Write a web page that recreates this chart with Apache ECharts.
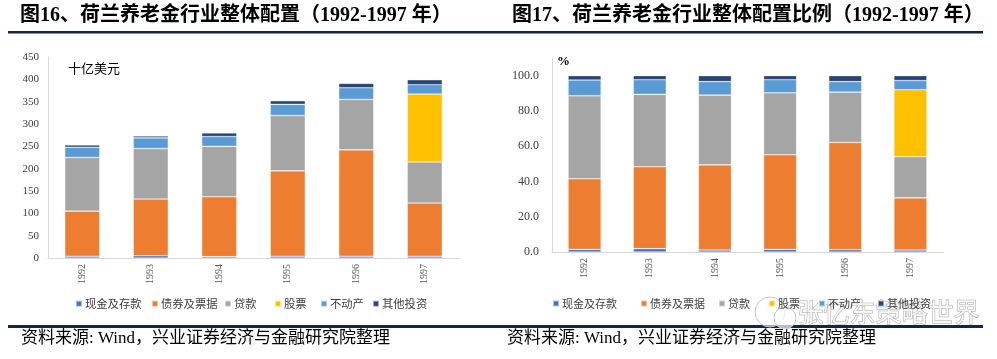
<!DOCTYPE html>
<html>
<head>
<meta charset="utf-8">
<script src="https://cdn.jsdelivr.net/npm/echarts@6/dist/echarts.min.js"></script>
<style>
html,body{margin:0;padding:0;background:#fff;}
#c{width:997px;height:359px;}
</style>
</head>
<body>
<div id="c"></div>
<script>
// ---- data ----
const years = ['1992','1993','1994','1995','1996','1997'];
const seriesNames = ['现金及存款','债券及票据','贷款','股票','不动产','其他投资'];
// Fig 16: billion USD
const cashAmt   = [4, 5, 3, 4, 4, 4];
const bondAmt   = [101, 127, 134, 191, 238, 119];
const loanAmt   = [120, 113, 113, 124, 113, 92];
const stockAmt  = [0, 0, 0, 0, 0, 152];
const realAmt   = [23, 24, 22, 25, 26, 21];
const otherAmt  = [5, 4, 8, 8, 10, 11];
// Fig 17: percent
const cashPct   = [1.5, 1.9, 1.1, 1.5, 1.3, 1.1];
const bondPct   = [40.0, 46.4, 48.3, 53.6, 60.8, 29.6];
const loanPct   = [47.1, 41.1, 39.6, 35.2, 28.6, 23.3];
const stockPct  = [0, 0, 0, 0, 0, 38.0];
const realPct   = [8.9, 8.3, 7.6, 7.4, 5.9, 5.2];
const otherPct  = [2.5, 2.3, 3.4, 2.3, 3.4, 2.8];
const leftTicks = [0, 450, 50];
const rightTicks = [0, 100, 20];

const colors = ['#4472C4','#ED7D31','#A5A5A5','#FFC000','#5B9BD5','#264478'];
const amtData = [cashAmt, bondAmt, loanAmt, stockAmt, realAmt, otherAmt];
const pctData = [cashPct, bondPct, loanPct, stockPct, realPct, otherPct];

const serif = '"Liberation Serif","Noto Sans CJK SC",serif';
const cjk = '"Noto Sans CJK SC","Liberation Serif",sans-serif';

const chart = echarts.init(document.getElementById('c'), null, {renderer:'canvas'});

const series = [];
seriesNames.forEach((n,i)=>{
  series.push({
    name:n, type:'bar', stack:'a', xAxisIndex:0, yAxisIndex:0,
    barWidth:35, data:amtData[i],
    itemStyle:{color:colors[i], borderColor:'rgba(255,255,255,0.55)', borderWidth:0.6},
    emphasis:{disabled:true}
  });
});
seriesNames.forEach((n,i)=>{
  series.push({
    name:n, type:'bar', stack:'b', xAxisIndex:1, yAxisIndex:1,
    barWidth:33, data:pctData[i],
    itemStyle:{color:colors[i], borderColor:'rgba(255,255,255,0.55)', borderWidth:0.6},
    emphasis:{disabled:true}
  });
});

const xCommon = {
  type:'category', data:years,
  axisLine:{lineStyle:{color:'#D9D9D9', width:1}},
  axisTick:{show:false},
  axisLabel:{rotate:90, fontFamily:serif, fontSize:10, color:'#595959', margin:6}
};

// one legend per item so positions follow the reference layout
const leftLegendX = [70, 146, 219, 269, 315, 367];
const rightLegendX = [547, 635, 713, 763, 813, 872];
const legends = [];
seriesNames.forEach((n,i)=>{
  legends.push({data:[n], left:leftLegendX[i], top:293, icon:'rect', itemWidth:6, itemHeight:6, itemGap:0,
    textStyle:{fontFamily:cjk, fontSize:11.3, color:'#404040', padding:[0,0,0,-2]}, selectedMode:false});
});
seriesNames.forEach((n,i)=>{
  legends.push({data:[n], left:rightLegendX[i], top:293, icon:'rect', itemWidth:6, itemHeight:6, itemGap:0,
    textStyle:{fontFamily:cjk, fontSize:11, color:'#404040', padding:[0,0,0,-2]}, selectedMode:false});
});

const lineColor = '#14254A';

chart.setOption({
  animation:false,
  color:colors,
  grid:[
    {left:48, right:538, top:57, bottom:101},
    {left:552, right:54, top:58, bottom:107}
  ],
  xAxis:[
    Object.assign({gridIndex:0}, xCommon),
    Object.assign({gridIndex:1}, xCommon)
  ],
  yAxis:[
    {type:'value', gridIndex:0, min:leftTicks[0], max:leftTicks[1], interval:leftTicks[2],
     axisLine:{show:true, lineStyle:{color:'#D9D9D9'}}, axisTick:{show:false}, splitLine:{show:false},
     axisLabel:{fontFamily:serif, fontSize:11, color:'#404040', margin:9}},
    {type:'value', gridIndex:1, min:rightTicks[0], max:110, interval:rightTicks[2],
     axisLine:{show:true, lineStyle:{color:'#D9D9D9'}}, axisTick:{show:false}, splitLine:{show:false},
     axisLabel:{fontFamily:serif, fontSize:12, color:'#404040', margin:13, showMaxLabel:false,
       formatter:v=> v>100 ? '' : v.toFixed(1)}}
  ],
  legend:legends,
  series:series,
  graphic:[
    {type:'text', left:20, top:6, style:{text:'图16、荷兰养老金行业整体配置（1992-1997 年）', font:'bold 20px '+serif, fill:'#000'}},
    {type:'text', left:512, top:6, style:{text:'图17、荷兰养老金行业整体配置比例（1992-1997 年）', font:'bold 20px '+serif, fill:'#000'}},
    {type:'rect', shape:{x:8, y:31, width:975, height:2.5}, style:{fill:lineColor}},
    {type:'rect', shape:{x:8, y:325, width:975, height:3}, style:{fill:lineColor}},
    {type:'text', left:68, top:62, style:{text:'十亿美元', font:'13px '+cjk, fill:'#000'}},
    {type:'text', left:557, top:55, style:{text:'%', font:'bold 13px '+serif, fill:'#000'}},
    {type:'text', left:21, top:330, style:{text:'资料来源: Wind，兴业证券经济与金融研究院整理', font:'17px '+serif, fill:'#000'}},
    {type:'text', left:507, top:330, style:{text:'资料来源: Wind，兴业证券经济与金融研究院整理', font:'17px '+serif, fill:'#000'}},
    // watermark
    {type:'circle', shape:{cx:770, cy:312, r:15}, style:{fill:'rgba(255,255,255,0.6)', stroke:'#C8C8C8', lineWidth:1}},
    {type:'circle', shape:{cx:785, cy:318, r:11}, style:{fill:'rgba(255,255,255,0.7)', stroke:'#C8C8C8', lineWidth:1}},
    {type:'text', left:797, top:299, style:{text:'张忆东策略世界', font:'26px '+cjk, fill:'rgba(255,255,255,0.85)', stroke:'#A8A8A8', lineWidth:1}}
  ]
});
</script>
</body>
</html>
